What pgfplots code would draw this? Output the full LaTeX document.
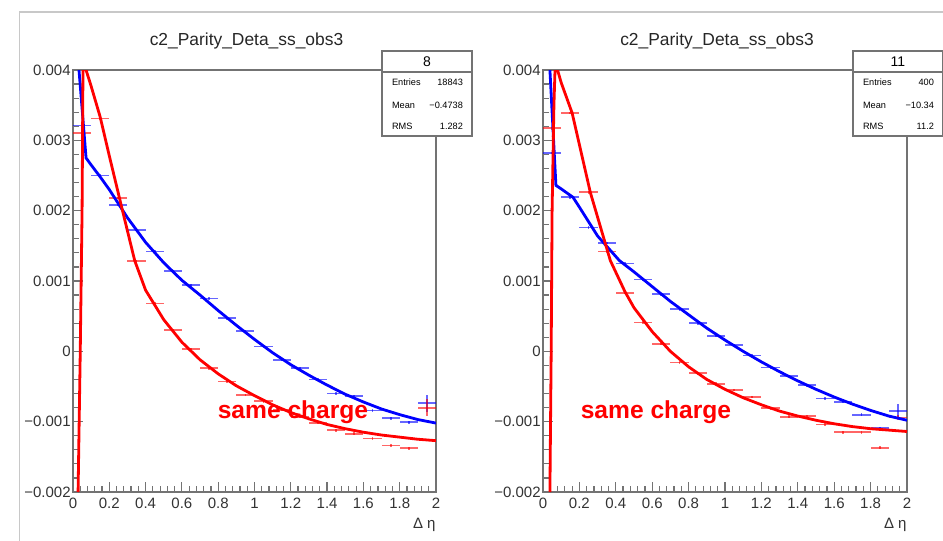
\documentclass[border=0pt]{standalone}
\usepackage{pgfplots}
\pgfplotsset{compat=1.18}
\usepackage{pgfplotstable}
\usepackage{fontspec}
\setmainfont{Liberation Sans}

\definecolor{rootblue}{RGB}{0,0,255}
\definecolor{rootred}{RGB}{255,0,0}
\definecolor{framegray}{RGB}{115,115,115}
\definecolor{padgray}{RGB}{200,200,200}

% binned data, x = bin centre, y and its error
\pgfplotstableread{
x y ey
0.05 0.00321 0.00003
0.15 0.00250 0.00002
0.25 0.00208 0.00002
0.35 0.00173 0.00002
0.45 0.00142 0.00002
0.55 0.00114 0.00002
0.65 0.00094 0.00002
0.75 0.00075 0.00002
0.85 0.00047 0.00002
0.95 0.00029 0.00002
1.05 0.00007 0.00002
1.15 -0.00012 0.00002
1.25 -0.00024 0.00002
1.35 -0.00040 0.00002
1.45 -0.00060 0.00002
1.55 -0.00064 0.00002
1.65 -0.00084 0.00002
1.75 -0.00095 0.00002
1.85 -0.00101 0.00002
1.95 -0.00074 0.00012
}\leftblue
\pgfplotstableread{
x y ey
0.05 0.00310 0.00002
0.15 0.00331 0.00002
0.25 0.00218 0.00002
0.35 0.00128 0.00002
0.45 0.00068 0.00002
0.55 0.00030 0.00002
0.65 0.00003 0.00002
0.75 -0.00024 0.00002
0.85 -0.00043 0.00002
0.95 -0.00062 0.00002
1.05 -0.00071 0.00002
1.15 -0.00083 0.00002
1.25 -0.00093 0.00002
1.35 -0.00102 0.00002
1.45 -0.00112 0.00002
1.55 -0.00117 0.00002
1.65 -0.00124 0.00002
1.75 -0.00134 0.00002
1.85 -0.00138 0.00002
1.95 -0.00080 0.00012
}\leftred
\pgfplotstableread{
x y ey
0.05 0.00282 0.00002
0.15 0.00219 0.00002
0.25 0.00176 0.00002
0.35 0.00154 0.00002
0.45 0.00125 0.00002
0.55 0.00102 0.00002
0.65 0.00081 0.00002
0.75 0.00060 0.00002
0.85 0.00040 0.00002
0.95 0.00022 0.00002
1.05 0.00009 0.00002
1.15 -0.00006 0.00002
1.25 -0.00023 0.00002
1.35 -0.00035 0.00002
1.45 -0.00048 0.00002
1.55 -0.00067 0.00002
1.65 -0.00072 0.00002
1.75 -0.00090 0.00002
1.85 -0.00109 0.00002
1.95 -0.00085 0.00010
}\rightblue
\pgfplotstableread{
x y ey
0.05 0.00317 0.00002
0.15 0.00339 0.00002
0.25 0.00226 0.00002
0.35 0.00142 0.00002
0.45 0.00083 0.00002
0.55 0.00041 0.00002
0.65 0.00011 0.00002
0.75 -0.00016 0.00002
0.85 -0.00031 0.00002
0.95 -0.00046 0.00002
1.05 -0.00055 0.00002
1.15 -0.00065 0.00002
1.25 -0.00081 0.00002
1.35 -0.00093 0.00002
1.45 -0.00092 0.00002
1.55 -0.00104 0.00002
1.65 -0.00115 0.00002
1.75 -0.00115 0.00002
1.85 -0.00137 0.00002
1.95 -0.00094 0.00004
}\rightred

% fitted curves
\pgfplotstableread{
x y
0.020 0.00442
0.033 0.00400
0.072 0.00275
0.10 0.00265
0.15 0.00248
0.20 0.00230
0.25 0.00210
0.30 0.00190
0.40 0.00155
0.50 0.00126
0.60 0.00101
0.70 0.00080
0.80 0.00058
0.90 0.00037
1.00 0.00017
1.10 -0.00002
1.20 -0.00019
1.30 -0.00034
1.40 -0.00048
1.50 -0.00061
1.60 -0.00072
1.70 -0.00082
1.80 -0.00090
1.90 -0.00097
2.00 -0.00102
}\leftbluefit
\pgfplotstableread{
x y
0.028 -0.00200
0.040 0.00000
0.050 0.00200
0.055 0.00400
0.064 0.00420
0.072 0.00400
0.10 0.00377
0.15 0.00333
0.20 0.00278
0.27 0.00203
0.34 0.00129
0.40 0.00087
0.50 0.00045
0.60 0.00013
0.70 -0.00012
0.80 -0.00032
0.90 -0.00049
1.00 -0.00063
1.10 -0.00076
1.20 -0.00087
1.30 -0.00096
1.40 -0.00104
1.50 -0.00110
1.60 -0.00115
1.70 -0.00119
1.80 -0.00122
1.90 -0.00125
2.00 -0.00127
}\leftredfit
\pgfplotstableread{
x y
0.030 0.00450
0.038 0.00400
0.071 0.00236
0.10 0.00231
0.165 0.00219
0.20 0.00205
0.30 0.00164
0.42 0.00129
0.50 0.00113
0.60 0.00092
0.70 0.00071
0.80 0.00052
0.90 0.00033
1.00 0.00016
1.10 0.00000
1.20 -0.00015
1.30 -0.00029
1.40 -0.00042
1.50 -0.00054
1.60 -0.00065
1.70 -0.00075
1.80 -0.00084
1.90 -0.00092
2.00 -0.00098
}\rightbluefit
\pgfplotstableread{
x y
0.038 -0.00200
0.045 0.00000
0.050 0.00200
0.060 0.00350
0.066 0.00400
0.074 0.00415
0.080 0.00400
0.10 0.00382
0.16 0.00339
0.26 0.00226
0.37 0.00129
0.45 0.00085
0.50 0.00062
0.60 0.00028
0.70 0.00000
0.80 -0.00022
0.90 -0.00040
1.00 -0.00054
1.10 -0.00066
1.20 -0.00076
1.30 -0.00085
1.40 -0.00092
1.50 -0.00098
1.60 -0.00103
1.70 -0.00107
1.80 -0.00110
1.90 -0.00112
2.00 -0.00114
}\rightredfit

\pgfplotsset{
  rootpad/.style={
    scale only axis, width=181.5pt, height=211pt,
    xmin=0, xmax=2, ymin=-0.002, ymax=0.004,
    scaled y ticks=false, scaled x ticks=false,
    axis line style={framegray, line width=0.9pt},
    tick style={framegray, line width=0.6pt},
    tick align=inside, xtick pos=bottom, ytick pos=left,
    major tick length=5pt, minor tick length=2.8pt,
    minor x tick num=4, minor y tick num=4,
    xtick={0,0.2,0.4,0.6,0.8,1,1.2,1.4,1.6,1.8,2},
    xticklabels={0,0.2,0.4,0.6,0.8,1,1.2,1.4,1.6,1.8,2},
    ytick={-0.002,-0.001,0,0.001,0.002,0.003,0.004},
    yticklabels={−0.002,−0.001,0,0.001,0.002,0.003,0.004},
    tick label style={font=\fontsize{7.5}{8}\selectfont, text=black!80},
    xticklabel style={inner sep=0pt, yshift=-3pt},
    yticklabel style={inner sep=0pt, xshift=-1pt},
    xlabel={Δ η},
    xlabel style={at={(axis description cs:1,0)}, anchor=north east,
      inner sep=0pt, yshift=-13pt, font=\fontsize{7.5}{8}\selectfont, text=black!80},
    title={c2\_Parity\_Deta\_ss\_obs3},
    title style={at={(axis description cs:0.5,1)}, anchor=south, inner sep=0pt,
      yshift=4pt, xshift=-4pt, font=\fontsize{8.7}{10}\selectfont, text=black!85},
  },
  datapts/.style={only marks, mark=*, mark size=0pt,
    mark options={draw=none, fill=none},
    error bars/x dir=both, error bars/x fixed=0.05,
    error bars/y dir=both, error bars/y explicit,
    error bars/error mark=none,
    error bars/error bar style={draw=#1, line width=0.9pt, opacity=0.6}},
  fitline/.style={no marks, line width=1.4pt},
}

\newcommand{\statbox}[5]{%
  \fill[white] (#1,51) rectangle ++(90,85);
  \draw[framegray, line width=0.6pt] (#1,51) rectangle ++(90,85);
  \draw[framegray, line width=0.6pt] (#1,72) -- ++(90,0);
  \node[font=\fontsize{7}{8}\selectfont] at (#1+45,62) {#2};
  \node[font=\fontsize{4.6}{5}\selectfont, anchor=west] at (#1+3,82) {Entries};
  \node[font=\fontsize{4.6}{5}\selectfont, anchor=west] at (#1+3,105) {Mean};
  \node[font=\fontsize{4.6}{5}\selectfont, anchor=west] at (#1+3,126) {RMS};
  \node[font=\fontsize{4.6}{5}\selectfont, anchor=east] at (#1+88,82) {#3};
  \node[font=\fontsize{4.6}{5}\selectfont, anchor=east] at (#1+88,105) {#4};
  \node[font=\fontsize{4.6}{5}\selectfont, anchor=east] at (#1+88,126) {#5};
}

\begin{document}
\begin{tikzpicture}
\path[use as bounding box, fill=white] (0,0) rectangle (471.5pt,270.5pt);

\begin{axis}[rootpad, at={(36.5pt,24.5pt)}, anchor=south west]
\addplot[rootblue, datapts=rootblue] table[x=x, y=y, y error=ey] {\leftblue};
\addplot[rootred, datapts=rootred] table[x=x, y=y, y error=ey] {\leftred};
\addplot[rootblue, fitline] table[x=x, y=y] {\leftbluefit};
\addplot[rootred, fitline] table[x=x, y=y] {\leftredfit};
\end{axis}

\begin{axis}[rootpad, at={(271.5pt,24.5pt)}, anchor=south west, width=182pt]
\addplot[rootblue, datapts=rootblue] table[x=x, y=y, y error=ey] {\rightblue};
\addplot[rootred, datapts=rootred] table[x=x, y=y, y error=ey] {\rightred};
\addplot[rootblue, fitline] table[x=x, y=y] {\rightbluefit};
\addplot[rootred, fitline] table[x=x, y=y] {\rightredfit};
\end{axis}

% pixel frame of the canvas
\begin{scope}[x=0.5pt, y=-0.5pt, shift={(0,270.5pt)}]
  \draw[padgray, line width=0.6pt] (19.5,541) -- (19.5,12) -- (943,12);
  \statbox{382}{8}{18843}{−0.4738}{1.282}
  \statbox{853}{11}{400}{−10.34}{11.2}
  \node[rootred, font=\bfseries\fontsize{12.3}{14}\selectfont] at (293,412) {same charge};
  \node[rootred, font=\bfseries\fontsize{12.3}{14}\selectfont] at (656,412) {same charge};
\end{scope}
\end{tikzpicture}
\end{document}
